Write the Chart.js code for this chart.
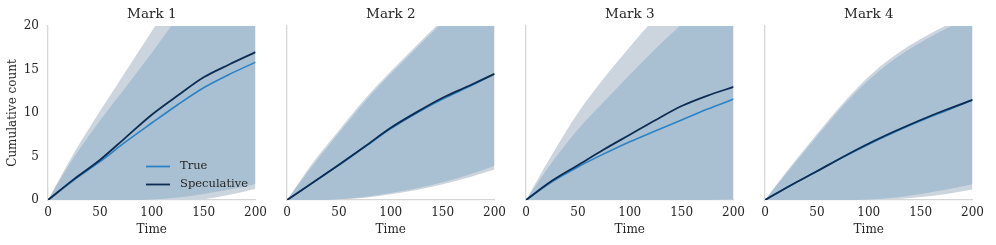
<!DOCTYPE html>
<html>
<head>
<meta charset="utf-8">
<script src="https://cdn.jsdelivr.net/npm/chart.js@4.4.0/dist/chart.umd.min.js"></script>
<style>
  body { margin: 0; background: #fff; width: 996px; height: 245px; overflow: hidden; }
  canvas { position: absolute; top: 0; }
</style>
</head>
<body>
<canvas id="c0" width="273" height="245" style="left:0px"></canvas>
<canvas id="c1" width="237" height="245" style="left:275px"></canvas>
<canvas id="c2" width="237" height="245" style="left:514px"></canvas>
<canvas id="c3" width="237" height="245" style="left:753px"></canvas>
<script>
// шаг по времени и подписи
const times = [0, 25, 50, 75, 100, 125, 150, 175, 200];
const panelTitles = ['Mark 1', 'Mark 2', 'Mark 3', 'Mark 4'];
const xTicks = [0, 50, 100, 150, 200];
const yTicks = [0, 5, 10, 15, 20];
const seriesNames = ['True', 'Speculative'];

// Mark 1
const mark1True    = [0, 2.3, 4.4, 6.7, 8.85, 10.95, 12.9, 14.45, 15.85];
const mark1Spec    = [0, 2.4, 4.6, 7.2, 9.8, 12.0, 14.1, 15.6, 17.0];
const mark1OuterHi = [0, 5.4, 10.2, 14.8, 19.4, 23.8, 27.8, 31.6, 35.4];
const mark1OuterLo = [0, 0, 0, 0, 0, 0, 0.1, 0.6, 1.3];
const mark1InnerHi = [0, 4.9, 9.1, 13.0, 16.9, 21.0, 24.5, 27.5, 30.5];
const mark1InnerLo = [0, 0, 0, 0, 0.05, 0.3, 0.7, 1.2, 1.85];

// Mark 2
const mark2True    = [0, 2.0, 4.0, 6.1, 8.2, 10.0, 11.6, 13.0, 14.5];
const mark2Spec    = [0, 2.0, 4.05, 6.15, 8.3, 10.1, 11.75, 13.1, 14.5];
const mark2OuterHi = [0, 4.3, 8.0, 11.6, 14.8, 17.8, 20.7, 23.3, 25.8];
const mark2OuterLo = [0, 0, 0.05, 0.25, 0.65, 1.15, 1.8, 2.6, 3.5];
const mark2InnerHi = [0, 4.0, 7.7, 11.3, 14.5, 17.5, 20.4, 23.0, 25.5];
const mark2InnerLo = [0, 0, 0.1, 0.35, 0.8, 1.35, 2.05, 2.9, 3.95];

// Mark 3
const mark3True    = [0, 2.1, 3.8, 5.3, 6.7, 7.95, 9.2, 10.45, 11.6];
const mark3Spec    = [0, 2.2, 4.0, 5.8, 7.5, 9.2, 10.8, 12.0, 13.0];
const mark3OuterHi = [0, 5.2, 10.0, 14.0, 17.6, 21.0, 24.0, 26.8, 29.5];
const mark3OuterLo = [0, 0, 0, 0, 0, 0, 0, 0, 0];
const mark3InnerHi = [0, 4.3, 8.1, 11.3, 14.4, 17.4, 20.2, 22.8, 25.3];
const mark3InnerLo = [0, 0, 0, 0, 0, 0, 0, 0, 0.05];

// Mark 4
const mark4True    = [0, 1.7, 3.3, 4.9, 6.4, 7.8, 9.1, 10.3, 11.5];
const mark4Spec    = [0, 1.7, 3.3, 4.95, 6.5, 7.9, 9.2, 10.4, 11.5];
const mark4OuterHi = [0, 3.9, 7.6, 11.1, 14.2, 16.6, 18.5, 20.1, 21.6];
const mark4OuterLo = [0, 0, 0, 0, 0, 0.1, 0.35, 0.7, 1.2];
const mark4InnerHi = [0, 3.7, 7.3, 10.8, 13.8, 16.2, 18.1, 19.7, 21.2];
const mark4InnerLo = [0, 0, 0, 0, 0.05, 0.3, 0.7, 1.2, 1.8];

const panels = [
  [mark1True, mark1Spec, mark1OuterHi, mark1OuterLo, mark1InnerHi, mark1InnerLo],
  [mark2True, mark2Spec, mark2OuterHi, mark2OuterLo, mark2InnerHi, mark2InnerLo],
  [mark3True, mark3Spec, mark3OuterHi, mark3OuterLo, mark3InnerHi, mark3InnerLo],
  [mark4True, mark4Spec, mark4OuterHi, mark4OuterLo, mark4InnerHi, mark4InnerLo]
];

const trueColor = '#2b83c6';
const specColor = '#0c2c52';
const outerColor = '#ccd5dd';
const innerColor = '#a9bfd2';
const axisColor = '#d6d6d6';
const textColor = '#262626';

Chart.defaults.font.family = "'DejaVu Serif', serif";
Chart.defaults.color = textColor;

const pts = arr => times.map((t, i) => ({ x: t, y: arr[i] }));

// легенда внутри первой панели
const innerLegend = {
  id: 'innerLegend',
  afterDatasetsDraw(chart) {
    const ctx = chart.ctx;
    const ca = chart.chartArea;
    const rows = [[seriesNames[0], trueColor, 166.5], [seriesNames[1], specColor, 184.5]];
    ctx.save();
    ctx.font = "11.5px 'DejaVu Serif', serif";
    ctx.textBaseline = 'middle';
    rows.forEach(([label, color, y]) => {
      ctx.strokeStyle = color;
      ctx.lineWidth = 1.8;
      ctx.beginPath();
      ctx.moveTo(ca.left + 98, y);
      ctx.lineTo(ca.left + 122, y);
      ctx.stroke();
      ctx.fillStyle = textColor;
      ctx.fillText(label, ca.left + 132, y);
    });
    ctx.restore();
  }
};

function makeChart(idx) {
  const [tr, sp, oHi, oLo, iHi, iLo] = panels[idx];
  const first = idx === 0;
  const band = { pointRadius: 0, borderWidth: 0, cubicInterpolationMode: 'monotone' };
  const line = { pointRadius: 0, fill: false, cubicInterpolationMode: 'monotone' };
  new Chart(document.getElementById('c' + idx), {
    type: 'line',
    data: {
      datasets: [
        { ...band, data: pts(oHi), fill: '+1', backgroundColor: outerColor, order: 4 },
        { ...band, data: pts(oLo), fill: false, order: 4 },
        { ...band, data: pts(iHi), fill: '+1', backgroundColor: innerColor, order: 3 },
        { ...band, data: pts(iLo), fill: false, order: 3 },
        { ...line, label: seriesNames[0], data: pts(tr), borderColor: trueColor, borderWidth: 1.6, order: 2 },
        { ...line, label: seriesNames[1], data: pts(sp), borderColor: specColor, borderWidth: 1.8, order: 1 }
      ]
    },
    options: {
      responsive: false,
      animation: false,
      layout: { padding: { top: 0, right: 14, bottom: 0, left: 0 } },
      plugins: {
        legend: { display: false },
        tooltip: { enabled: false },
        title: {
          display: true,
          text: panelTitles[idx],
          fullSize: false,
          color: textColor,
          font: { size: 13.5, weight: 'normal' },
          padding: { top: 6, bottom: 3.8 }
        }
      },
      scales: {
        x: {
          type: 'linear',
          min: 0,
          max: 200,
          afterBuildTicks: s => { s.ticks = xTicks.map(v => ({ value: v })); },
          afterFit: s => { s.height = 45; },
          grid: { display: false, drawTicks: false },
          border: { display: true, color: axisColor, width: 1.3 },
          ticks: { padding: 6, font: { size: 12 }, color: textColor, maxRotation: 0 },
          title: { display: true, text: 'Time', font: { size: 12 }, color: textColor, padding: { top: 0, bottom: 8 } }
        },
        y: {
          min: 0,
          max: 20,
          afterBuildTicks: s => { s.ticks = yTicks.map(v => ({ value: v })); },
          afterFit: s => { s.width = first ? 48 : 12; },
          grid: { display: false, drawTicks: false },
          border: { display: true, color: axisColor, width: 1.3 },
          ticks: { display: first, padding: 9, font: { size: 12 }, color: textColor },
          title: { display: first, text: 'Cumulative count', font: { size: 12 }, color: textColor, padding: { top: 6, bottom: 0 } }
        }
      }
    },
    plugins: first ? [innerLegend] : []
  });
}

panels.forEach((p, i) => makeChart(i));
</script>
</body>
</html>
